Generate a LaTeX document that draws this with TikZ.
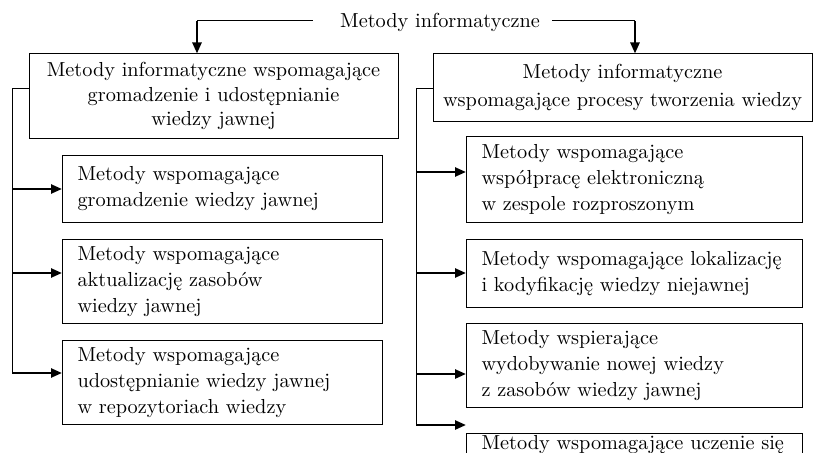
\documentclass[tikz,border=0pt]{standalone}
\usepackage{fontspec}
\setmainfont{lmroman10-regular.otf}
\usetikzlibrary{arrows.meta}
\tikzset{
  box/.style={draw, line width=1pt, rectangle, inner sep=0pt},
  cbox/.style={box, anchor=north west, text width=#1, align=left, inner xsep=15pt, inner ysep=0pt,
    font=\fontsize{20.3}{26}\selectfont},
  link/.style={line width=1pt},
  arr/.style={line width=2.4pt, -{Triangle[length=11pt,width=9pt]}},
}
\begin{document}
\begin{tikzpicture}[x=1pt,y=-1pt]
\useasboundingbox (0,0) rectangle (813,452);
\clip (0,0) rectangle (813,452);
\fill[white] (0,0) rectangle (813,452);
% title
\node[inner sep=0pt, font=\fontsize{20.3}{24}\selectfont] (T) at (440,22) {Metody informatyczne};
% top boxes
\node[box, minimum width=369pt, minimum height=84pt, align=center,
      font=\fontsize{20.3}{24.5}\selectfont] (L) at (213.5,96)
  {Metody informatyczne wspomagające\\gromadzenie i udostępnianie\\wiedzy jawnej};
\node[box, minimum width=379pt, minimum height=67pt, align=center,
      font=\fontsize{20.3}{28}\selectfont] (R) at (622.5,87.5)
  {Metody informatyczne\\wspomagające procesy tworzenia wiedzy};
% left children
\node[cbox=290pt, minimum height=67pt] (c1) at (62,155)
  {Metody wspomagające\\gromadzenie wiedzy jawnej};
\node[cbox=290pt, minimum height=84pt] (c2) at (62,239)
  {Metody wspomagające\\aktualizację zasobów\\wiedzy jawnej};
\node[cbox=290pt, minimum height=84pt] (c3) at (62,340)
  {Metody wspomagające\\udostępnianie wiedzy jawnej\\w repozytoriach wiedzy};
% right children
\node[cbox=306pt, minimum height=86pt] (r1) at (466,136)
  {Metody wspomagające\\współpracę elektroniczną\\w zespole rozproszonym};
\node[cbox=306pt, minimum height=68pt] (r2) at (466,239)
  {Metody wspomagające lokalizację\\i kodyfikację wiedzy niejawnej};
\node[cbox=306pt, minimum height=84pt] (r3) at (466,323)
  {Metody wspierające\\wydobywanie nowej wiedzy\\z zasobów wiedzy jawnej};
\node[cbox=306pt, minimum height=22pt] (r4) at (466,433)
  {Metody wspomagające uczenie się};
% top connectors
\coordinate (tl) at (197,21);
\coordinate (tr) at (635,21);
\draw[link] ([xshift=-27pt]T.west |- tl) -- (tl);
\draw[arr] (tl) -- (tl |- L.north);
\draw[link] ([xshift=12pt]T.east |- tr) -- (tr);
\draw[arr] (tr) -- (tr |- R.north);
% left tree
\coordinate (lj) at (12,88);
\coordinate (la1) at (12,189);
\coordinate (la2) at (12,273);
\coordinate (la3) at (12,373);
\draw[link] (L.west |- lj) -- (lj) -- (la3);
\draw[arr] (la1) -- (la1 -| c1.west);
\draw[arr] (la2) -- (la2 -| c2.west);
\draw[arr] (la3) -- (la3 -| c3.west);
% right tree
\coordinate (rj) at (416,88);
\coordinate (ra1) at (416,172);
\coordinate (ra2) at (416,273);
\coordinate (ra3) at (416,374);
\coordinate (ra4) at (416,425);
\draw[link] (R.west |- rj) -- (rj) -- (ra4);
\draw[arr] (ra1) -- (ra1 -| r1.west);
\draw[arr] (ra2) -- (ra2 -| r2.west);
\draw[arr] (ra3) -- (ra3 -| r3.west);
\draw[arr] (ra4) -- (ra4 -| r4.west);
\end{tikzpicture}
\end{document}
